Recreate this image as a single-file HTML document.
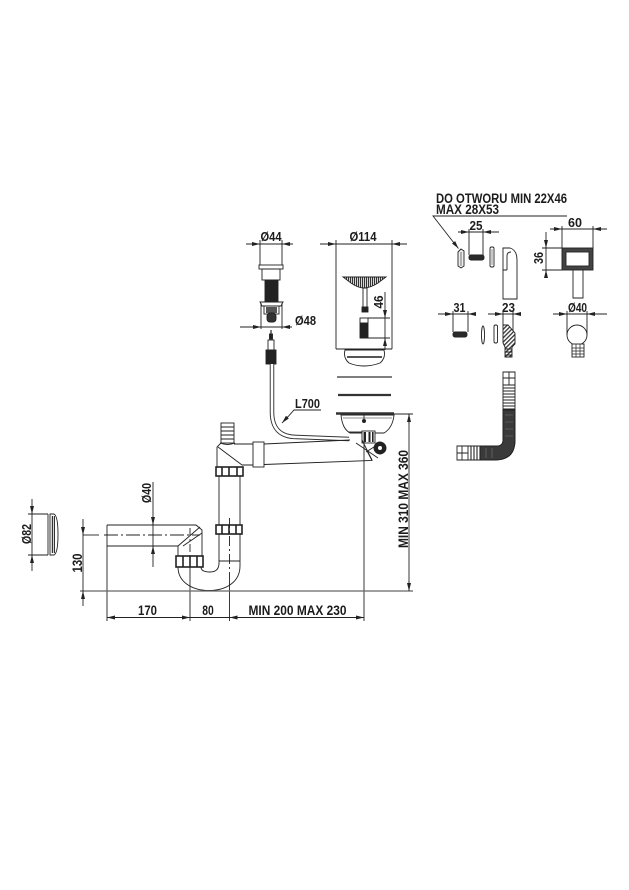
<!DOCTYPE html>
<html><head><meta charset="utf-8">
<style>
html,body{margin:0;padding:0;background:#fff;}
svg{display:block;}
text{font-family:"Liberation Sans",Arial,sans-serif;font-weight:bold;fill:#1c1c1c;}
</style></head><body>
<svg width="629" height="890" viewBox="0 0 629 890" xmlns="http://www.w3.org/2000/svg">
<defs>
<marker id="a" markerUnits="userSpaceOnUse" markerWidth="8" markerHeight="4" viewBox="0 0 8 4" refX="8" refY="2" orient="auto"><path d="M0,0 L8,2 L0,4 Z" fill="#222"/></marker>
<pattern id="hv" width="2" height="2" patternUnits="userSpaceOnUse"><rect width="1.2" height="2" fill="#333"/></pattern>
<pattern id="hd" width="3" height="3" patternUnits="userSpaceOnUse" patternTransform="rotate(45)"><rect width="1.3" height="3" fill="#333"/></pattern>
</defs>

<g stroke="#222" stroke-width="0.9" fill="none">

<!-- ===== Ø44 pop-up head ===== -->
<path d="M246,244 H293"/>
<path d="M252,244 H260" marker-end="url(#a)"/>
<path d="M290,244 H282" marker-end="url(#a)"/>
<path d="M260,240 V265 M282,240 V265"/>
<rect x="259" y="265" width="24" height="4"/>
<rect x="262" y="269" width="18" height="11"/>
<rect x="265" y="280" width="13" height="22" fill="#222"/>
<path d="M260,302 H283 L281,306 H262 Z"/>
<rect x="264" y="306" width="15" height="8"/>
<rect x="266" y="307" width="11" height="6" fill="#555" stroke="none"/>
<rect x="267" y="313" width="9" height="9" rx="3" fill="#333"/>
<!-- Ø48 -->
<path d="M261,303 V329 M282,303 V329"/>
<path d="M240,327 H292"/>
<path d="M251,327 H261" marker-end="url(#a)"/>
<path d="M292,327 H282" marker-end="url(#a)"/>
<!-- cable -->
<path d="M271,330 V336" stroke-width="1.2"/>
<rect x="269.5" y="334" width="3" height="5" fill="#222"/>
<rect x="268" y="340" width="6" height="10"/>
<rect x="266" y="350" width="10" height="14" fill="#222"/>
<path d="M272,364 V412 Q272,437 297,437 L349,439" stroke="#333" stroke-width="4.5"/>
<path d="M272,364 V412 Q272,437 297,437 L349,439" stroke="#fff" stroke-width="2.6"/>
<!-- L700 leader -->
<path d="M321,410 H294 L286,419"/>
<path d="M288,416.5 L282,423" marker-end="url(#a)"/>

<!-- ===== Ø114 strainer ===== -->
<path d="M320,244 H407"/>
<path d="M326,244 H336" marker-end="url(#a)"/>
<path d="M402,244 H392" marker-end="url(#a)"/>
<path d="M336,240 V349 M392,240 V349 M336,349 H392"/>
<path d="M343,277 H386 L378,283 Q370,288 364,288 Q358,288 351,283 Z" fill="url(#hv)"/>
<rect x="363" y="288" width="4" height="19"/>
<rect x="362" y="307" width="6" height="5" fill="#222"/>
<rect x="360" y="318" width="8" height="20"/>
<rect x="360.5" y="323" width="7" height="15" fill="#222"/>
<!-- 46 -->
<path d="M385,292 V350"/>
<path d="M385,310 V318" marker-end="url(#a)"/>
<path d="M385,346 V338" marker-end="url(#a)"/>
<path d="M368,318 H390 M368,338 H390"/>
<!-- bowl & rings -->
<path d="M345,350 H384 Q386,358 380,363 Q372,366 364,366 Q356,366 349,363 Q343,358 345,350 Z"/>
<path d="M347,357 H382" stroke-width="2" stroke="#555"/>
<path d="M337,377 H392" stroke-width="1.6" stroke="#555"/>
<path d="M338,395 H391" stroke-width="2.2" stroke="#333"/>
<path d="M336,413.5 H394" stroke-width="2.6" stroke="#333"/>
<path d="M341,415 H394 C393,425 389,430 384,433 H350 C345,430 342,425 341,415 Z"/>
<path d="M343,418 H392" stroke-width="0.6"/>
<path d="M364,415 V421"/>
<circle cx="364" cy="421" r="2" fill="#222" stroke="none"/>
<rect x="362" y="431" width="13" height="12" fill="#fff"/>
<rect x="364" y="432" width="2" height="10" fill="#222" stroke="none"/>
<rect x="368.5" y="432" width="2" height="10" fill="#222" stroke="none"/>
<rect x="372" y="432" width="1.6" height="10" fill="#222" stroke="none"/>
<path d="M348,432 H362"/>
<path d="M356,443 L378,458 M362,440 L372,460 M366,452 L374,447"/>
<circle cx="380" cy="448" r="6" fill="#222"/>
<circle cx="380" cy="448" r="2" fill="#fff" stroke="none"/>
<path d="M364,432 V621"/>

<!-- ===== horizontal waste pipe & tee ===== -->
<rect x="253" y="442" width="11" height="25"/>
<path d="M264,444 L350,440 M264,464.5 L372,460.5 L366,449"/>
<path d="M234,444 H253 M242,465 H253"/>
<rect x="221" y="423" width="13" height="20"/>
<path d="M221,427 H234 M221,431 H234 M221,435 H234 M221,439 H234"/>
<path d="M220,443 Q227.5,446 235,443"/>
<path d="M221,443 L217,447 V467"/>
<path d="M218,447 L242,465"/>
<rect x="216" y="467" width="27" height="9" stroke-width="1.6"/>
<path d="M222,467 V476 M229,467 V476 M237,467 V476" stroke-width="1.6"/>
<path d="M219,476 V525 M240,476 V525"/>
<rect x="216" y="525" width="26" height="9" stroke-width="1.6"/>
<path d="M222,525 V534 M229,525 V534 M236,525 V534" stroke-width="1.6"/>
<path d="M240,534 V566 M219,534 V564 M219,561 H240"/>
<!-- trap -->
<path d="M178,567 C178,582 192,590.5 209,590.5 C226,590.5 240,582 240,566"/>
<path d="M201,567 Q201,572 210,572 Q219,572 219,563"/>
<path d="M229.5,518 V572" stroke-dasharray="10,3,2,3"/>
<path d="M229.5,572 V621"/>

<!-- left horizontal pipe -->
<path d="M107,525 H196 L202,530 V556 M107,525 V546 H178 V556"/>
<path d="M178,546 L200,527 M183,546 L202,533"/>
<rect x="176" y="556" width="27" height="11" stroke-width="1.6"/>
<path d="M183,556 V567 M190,556 V567 M197,556 V567" stroke-width="1.6"/>
<path d="M83,535 H99"/>
<path d="M104,535 H200" stroke-dasharray="14,3,2,3"/>
<path d="M190,528 V556" stroke-dasharray="8,3,2,3"/>
<path d="M107,546 V621 M190,567 V621"/>

<!-- bottom dims -->
<path d="M107,617.5 H364"/>
<path d="M117,617.5 H107" marker-end="url(#a)"/>
<path d="M180,617.5 H190" marker-end="url(#a)"/>
<path d="M239,617.5 H229.5" marker-end="url(#a)"/>
<path d="M354,617.5 H364" marker-end="url(#a)"/>

<!-- floor line -->
<path d="M80,591 H413" stroke="#666" stroke-width="1.3"/>

<!-- 130 -->
<path d="M83,519 V606"/>
<path d="M83,527 V535" marker-end="url(#a)"/>
<path d="M83,599 V591" marker-end="url(#a)"/>

<!-- Ø40 left -->
<path d="M153,482 V567"/>
<path d="M153,517 V525" marker-end="url(#a)"/>
<path d="M153,554 V546" marker-end="url(#a)"/>

<!-- Ø82 cap -->
<path d="M48,514 V555"/>
<path d="M50,514 H54 Q58,516 58,534.5 Q58,553 54,555 H50 Z"/>
<rect x="51" y="516" width="4" height="37" fill="url(#hv)" stroke="none"/>
<path d="M32,499 V571"/>
<path d="M32,506 V514" marker-end="url(#a)"/>
<path d="M32,563 V555" marker-end="url(#a)"/>
<path d="M28,514 H48 M28,555 H48"/>

<!-- MIN 310 MAX 360 -->
<path d="M409,414 V591"/>
<path d="M409,424 V414" marker-end="url(#a)"/>
<path d="M409,581 V591" marker-end="url(#a)"/>
<path d="M394,414 H413"/>

<!-- ===== overflow parts ===== -->
<path d="M567,216 H433 L454,243"/>
<path d="M453.5,242.2 L458.5,248.5" marker-end="url(#a)"/>
<!-- 25 -->
<path d="M458,232 H499"/>
<path d="M461,232 H469" marker-end="url(#a)"/>
<path d="M491,232 H483" marker-end="url(#a)"/>
<path d="M469,229 V255 M483,229 V255"/>
<path d="M458,252 L461,249 L464,251 V266 L461,268 L458,266 Z" fill="#eee"/>
<path d="M461,252 V266" stroke-width="0.6"/>
<rect x="469" y="255" width="15" height="5" rx="2" fill="#2a2a2a"/>
<rect x="490" y="247" width="4" height="20" rx="1.5"/>
<path d="M492,249 V265" stroke-width="0.5"/>
<path d="M503,299 V248 H510 Q517,250 517,260 V299 Z"/>
<path d="M507,270 V256 Q507,252 511,252 M503,270 H507"/>
<!-- front view -->
<rect x="562" y="248" width="31" height="22" fill="#444" stroke="#222"/>
<rect x="566" y="252" width="23" height="14" fill="#fff"/>
<path d="M573,270 V298 H583 V270"/>
<!-- 60 -->
<path d="M550,229 H607"/>
<path d="M554,229 H562" marker-end="url(#a)"/>
<path d="M601,229 H593" marker-end="url(#a)"/>
<path d="M562,226 V248 M593,226 V248"/>
<!-- 36 -->
<path d="M546,232 V278"/>
<path d="M546,240 V248" marker-end="url(#a)"/>
<path d="M546,278 V270" marker-end="url(#a)"/>
<path d="M542,248 H562 M542,270 H562"/>
<!-- 31 -->
<path d="M438,314 H476"/>
<path d="M445,314 H453" marker-end="url(#a)"/>
<path d="M476,314 H468" marker-end="url(#a)"/>
<path d="M453,311 V332 M468,311 V332"/>
<rect x="453" y="332" width="14" height="5" rx="2" fill="#2a2a2a"/>
<ellipse cx="483" cy="335" rx="1.5" ry="9"/>
<rect x="494" y="325" width="3.5" height="18" rx="1.5"/>
<!-- 23 -->
<path d="M488,314 H521"/>
<path d="M495,314 H503" marker-end="url(#a)"/>
<path d="M521,314 H513" marker-end="url(#a)"/>
<path d="M503,311 V326 M513,311 V331"/>
<path d="M503,325 H508 L515,333 V344 L512,347 V357 H505 V347 L503,343 Z" fill="url(#hd)"/>
<path d="M505,349 H512 M505,352 H512 M505,355 H512"/>
<!-- Ø40 right -->
<path d="M553,314 H607"/>
<path d="M559,314 H567" marker-end="url(#a)"/>
<path d="M595,314 H587" marker-end="url(#a)"/>
<path d="M567,311 V335 M587,311 V335"/>
<circle cx="577" cy="335" r="10" fill="#fff"/>
<rect x="572" y="344" width="12" height="13" fill="#fff"/>
<path d="M572,348 H584 M572,351 H584 M572,354 H584 M576,344 V357 M580,344 V357" stroke-width="0.7"/>

<!-- corrugated hose -->
<path d="M503,372 H515 V440 Q515,460 495,460 H457 V446 H497 Q503,446 503,440 Z" fill="#fff"/>
<path d="M503,410 H515 V440 Q515,460 495,460 H480 V446 H497 Q503,446 503,440 Z" fill="#3a3a3a"/>
<path d="M503,378 H515 M509,372 V385 M503,385 H515"/>
<path d="M503,388 H515 M503,391 H515 M503,394 H515 M503,397 H515 M503,400 H515 M503,403 H515 M503,406 H515 M503,409 H515" stroke-width="1.1"/>
<path d="M462,446 V460 M457,453 H468 M468,446 V460"/>
<path d="M471,446 V460 M474,446 V460 M477,446 V460 M480,446 V460" stroke-width="1.1"/>
<path d="M505,415 H513 M505,422 H513 M505,429 H513 M505,436 H513 M486,448 V458 M492,448 V458" stroke="#777" stroke-width="0.6"/>
</g>

<!-- ===== TEXT ===== -->
<text x="271" y="241" text-anchor="middle" font-size="13" textLength="21" lengthAdjust="spacingAndGlyphs">Ø44</text>
<text x="363" y="241" text-anchor="middle" font-size="13" textLength="27" lengthAdjust="spacingAndGlyphs">Ø114</text>
<text x="295" y="325" font-size="13" textLength="21" lengthAdjust="spacingAndGlyphs">Ø48</text>
<text transform="translate(383,302) rotate(-90)" text-anchor="middle" font-size="13" textLength="13" lengthAdjust="spacingAndGlyphs">46</text>
<text x="295" y="408" font-size="13" textLength="25" lengthAdjust="spacingAndGlyphs">L700</text>

<text x="436" y="203" font-size="13.5" textLength="131" lengthAdjust="spacingAndGlyphs">DO OTWORU MIN 22X46</text>
<text x="436" y="214" font-size="13.5" textLength="63" lengthAdjust="spacingAndGlyphs">MAX 28X53</text>
<text x="476" y="230" text-anchor="middle" font-size="12.5" textLength="13" lengthAdjust="spacingAndGlyphs">25</text>
<text x="575" y="227" text-anchor="middle" font-size="13" textLength="14" lengthAdjust="spacingAndGlyphs">60</text>
<text transform="translate(543,258) rotate(-90)" text-anchor="middle" font-size="13" textLength="12" lengthAdjust="spacingAndGlyphs">36</text>
<text x="459.5" y="312" text-anchor="middle" font-size="13" textLength="12" lengthAdjust="spacingAndGlyphs">31</text>
<text x="508.5" y="312" text-anchor="middle" font-size="13" textLength="13" lengthAdjust="spacingAndGlyphs">23</text>
<text x="577.5" y="312" text-anchor="middle" font-size="13" textLength="19" lengthAdjust="spacingAndGlyphs">Ø40</text>

<text transform="translate(151,493) rotate(-90)" text-anchor="middle" font-size="13" textLength="20" lengthAdjust="spacingAndGlyphs">Ø40</text>
<text transform="translate(31,534) rotate(-90)" text-anchor="middle" font-size="13" textLength="20" lengthAdjust="spacingAndGlyphs">Ø82</text>
<text transform="translate(82,563) rotate(-90)" text-anchor="middle" font-size="13.5" textLength="19" lengthAdjust="spacingAndGlyphs">130</text>
<text transform="translate(408,499) rotate(-90)" text-anchor="middle" font-size="14" textLength="98" lengthAdjust="spacingAndGlyphs">MIN 310 MAX 360</text>

<text x="147.5" y="615" text-anchor="middle" font-size="14" textLength="19" lengthAdjust="spacingAndGlyphs">170</text>
<text x="208" y="615" text-anchor="middle" font-size="14" textLength="11.5" lengthAdjust="spacingAndGlyphs">80</text>
<text x="297.5" y="615" text-anchor="middle" font-size="14" textLength="98" lengthAdjust="spacingAndGlyphs">MIN 200 MAX 230</text>
</svg>
</body></html>
